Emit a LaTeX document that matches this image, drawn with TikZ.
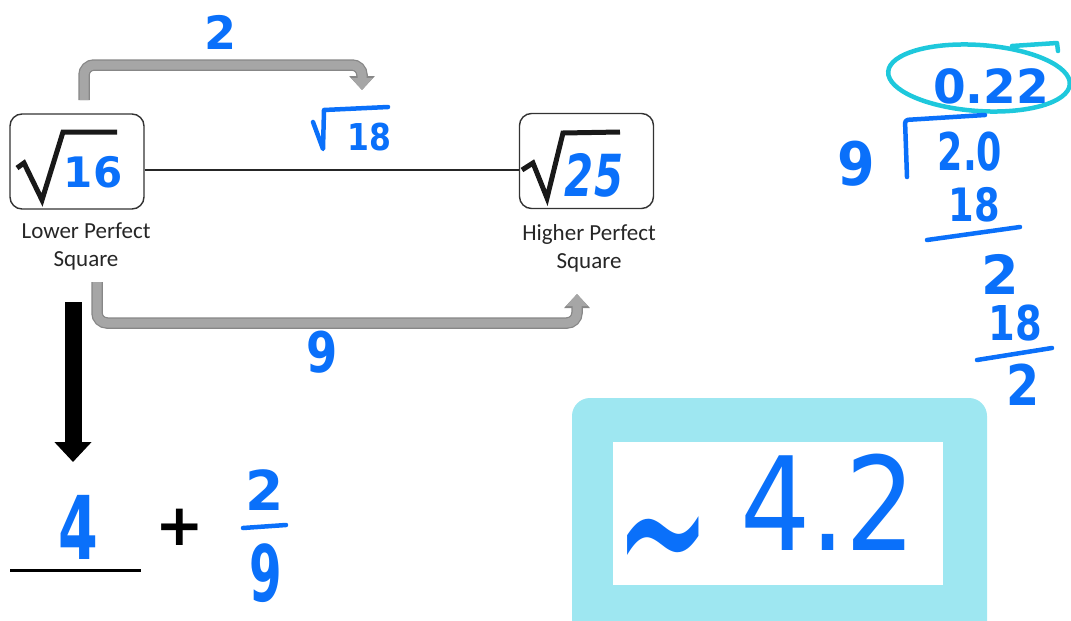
\documentclass[tikz,border=0pt]{standalone}
\usepackage{fontspec}
\usepackage{graphicx}
\usetikzlibrary{arrows.meta,calc}
\newfontfamily\hand{DejaVu Sans}
\newfontfamily\lab{Carlito}
\newcommand\hsz[1]{\fontsize{#1}{#1}\selectfont}
\definecolor{ink}{RGB}{10,112,250}
\definecolor{hlcyan}{RGB}{30,200,220}
\definecolor{boxcyan}{RGB}{158,231,241}
\definecolor{arrowgray}{RGB}{166,166,166}
\definecolor{arrowedge}{RGB}{135,135,135}
\definecolor{labtext}{RGB}{38,38,38}
\tikzset{
  hw/.style={text=ink, inner sep=0pt},
  sqbox/.style={draw=black!80, line width=1.4pt, rounded corners=12pt, minimum width=134pt, minimum height=95pt, inner sep=0pt},
  caption/.style={align=center, text=labtext, inner sep=0pt, font=\lab\fontsize{23}{28}\selectfont},
  radical/.style={line width=5pt, black!90},
  inkline/.style={ink, line width=4.5pt, line cap=round, line join=round},
  grayouter/.style={arrowedge, line width=11.5pt, rounded corners=10pt, -{Triangle[width=25pt,length=14pt]}},
  grayinner/.style={arrowgray, line width=9pt, rounded corners=10pt, -{Triangle[width=21pt,length=12pt]}},
}
\begin{document}
\begin{tikzpicture}[x=1pt,y=-1pt]
\useasboundingbox (0,0) rectangle (1071,621);
% result box
\fill[boxcyan, rounded corners=18pt] (572,398) rectangle (987,660);
\fill[white] (613,442) rectangle (943,585);
% boxes
\node[sqbox] (lbox) at (77,161.5) {};
\node[sqbox] (rbox) at (586.5,161) {};
\draw[line width=1.3pt, black!85] ([yshift=-8.5pt]lbox.east) -- ([yshift=-9pt]rbox.west);
\draw[radical] (17,168) -- (24,163) -- (42,200) -- (63,132) -- (117,132);
\draw[radical] (522,170) -- (533,163) -- (547,198) -- (563,133) -- (620,132);
\node[hw, font=\hand\bfseries\hsz{42}] (n16) at (93,172) {16};
\node[hw, font=\hand\bfseries\itshape\hsz{58}] (n25) at (594,175) {\scalebox{0.72}[1]{25}};
% captions
\node[caption] (llab) at (86,246) {Lower Perfect\\Square};
\node[caption] (rlab) at (589,248) {Higher Perfect\\Square};
% gray arrows
\coordinate (ta) at (84,100);
\coordinate (tb) at (362,90);
\draw[grayouter] (ta) -- (84,65) -- (362,65) -- (tb);
\draw[grayinner] (ta) -- (84,65) -- (362,65) -- (tb);
\coordinate (ba) at (97,282);
\coordinate (bb) at (577,294);
\draw[grayouter] (ba) -- (97,323) -- (577,323) -- (bb);
\draw[grayinner] (ba) -- (97,323) -- (577,323) -- (bb);
% labels
\node[hw, font=\hand\bfseries\hsz{46}] (ltwo) at (221,32) {2};
\draw[inkline] (313,122) -- (323,149) -- (324,110) -- (388,107);
\node[hw, font=\hand\bfseries\hsz{37}] (l18) at (369,137) {\scalebox{0.85}[1]{18}};
\node[hw, font=\hand\bfseries\hsz{56}] (lnine) at (322,352) {\scalebox{0.8}[1]{9}};
% black arrow
\coordinate (ka) at (73,302);
\coordinate (kb) at (73,462);
\draw[line width=17pt, black, -{Triangle[width=36pt,length=20pt]}] (ka) -- (kb);
% 4 + 2/9
\draw[line width=3pt, black] (10,570) -- (141,570);
\node[hw, font=\hand\bfseries\hsz{88}] (four) at (78,527) {\scalebox{0.65}[1]{4}};
\node[inner sep=0pt, font=\hand\bfseries\hsz{58}] (plus) at (180,527) {+};
\node[hw, font=\hand\bfseries\hsz{55}] (fnum) at (265,490) {2};
\draw[inkline] (243,528) -- (286,525);
\node[hw, font=\hand\bfseries\hsz{78}] (fden) at (266,573) {\scalebox{0.6}[1]{9}};
% division
\draw[hlcyan, line width=4.5pt, rotate around={-4:(979,78)}] (979,78) ellipse [x radius=91pt, y radius=33pt];
\draw[hlcyan, line width=4.5pt, line cap=round, line join=round] (1012,46) -- (1057,43) -- (1058,51);
\node[hw, font=\hand\bfseries\hsz{47}] (q) at (991,86) {0.22};
\draw[inkline, rounded corners=3pt] (907,177) -- (905,120) -- (985,115);
\node[hw, font=\hand\bfseries\hsz{60}] (dv) at (856,164) {\scalebox{0.9}[1]{9}};
\node[hw, font=\hand\bfseries\hsz{52}] (dd) at (970,152) {\scalebox{0.7}[1]{2.0}};
\node[hw, font=\hand\bfseries\hsz{46}] (s1) at (974,205) {\scalebox{0.8}[1]{18}};
\draw[inkline] (927,240) -- (1020,227);
\node[hw, font=\hand\bfseries\hsz{54}] (r1) at (1000,274) {2};
\node[hw, font=\hand\bfseries\hsz{48}] (s2) at (1015,323) {\scalebox{0.8}[1]{18}};
\draw[inkline] (977,360) -- (1052,348);
\node[hw, font=\hand\bfseries\hsz{56}] (r2) at (1023,385) {\scalebox{0.85}[1]{2}};
% result
\node[hw, font=\hand\hsz{114}] (tilde) at (663,535) {\scalebox{1}[2]{\raisebox{-0.25em}[0.2em][0.06em]{\textasciitilde}}};
\node[hw, font=\hand\hsz{130}] (res) at (828,502) {\scalebox{0.85}[1]{4.2}};
\end{tikzpicture}
\end{document}
